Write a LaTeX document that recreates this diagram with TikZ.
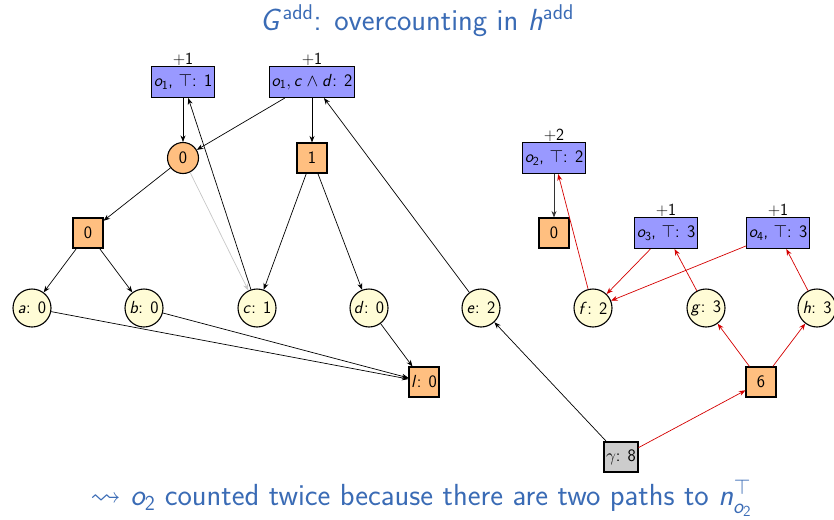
\RequirePackage{fix-cm}
\documentclass[tikz,border=0pt]{standalone}
\usepackage{amssymb}
\usetikzlibrary{arrows.meta}
\DeclareMathAlphabet{\mathsfit}{OT1}{cmss}{m}{sl}
\newcommand{\sv}[1]{\ensuremath{\mathsfit{#1}}}
\definecolor{opblue}{HTML}{9999FF}
\definecolor{andor}{HTML}{FFBF80}
\definecolor{varyel}{HTML}{FFFCD6}
\definecolor{goalgray}{HTML}{CCCCCC}
\definecolor{titleblue}{HTML}{3A6BB5}
\definecolor{arred}{HTML}{D40000}
\begin{document}
\begin{tikzpicture}[x=1pt,y=-1pt,
  every node/.style={font=\sffamily\fontsize{17.5}{20}\selectfont},
  opbox/.style={draw, line width=1.1pt, fill=opblue, minimum height=31pt, inner sep=2pt},
  andbox/.style={draw, line width=1.1pt, fill=andor, minimum size=30pt, inner sep=2pt},
  orcirc/.style={circle, draw, line width=1.1pt, fill=andor, minimum size=31pt, inner sep=1pt},
  varcirc/.style={circle, draw, line width=1.1pt, fill=varyel, minimum size=38pt, inner sep=0.5pt},
  goalbox/.style={draw, line width=1.1pt, fill=goalgray, minimum height=30pt, inner sep=2pt},
  cost/.style={label={[inner sep=0.5pt, font=\sffamily\fontsize{17}{19}\selectfont]above:+#1}},
  edge/.style={-{Stealth[length=6.5pt,width=5pt]}, line width=0.7pt},
  redge/.style={edge, draw=arred},
  faint/.style={edge, draw=black!22}]
\useasboundingbox (0,0) rectangle (834,519);
% title and message
\node[text=titleblue] (title) at (417,21) {\fontsize{30.5}{34}\selectfont $\mathsfit{G}^{\mathsf{add}}$: overcounting in $\mathsfit{h}^{\mathsf{add}}$};
\node[text=titleblue] (msg) at (421,498) {\fontsize{30.5}{34}\selectfont $\leadsto$ $\mathsfit{o}_{\mathsf{2}}$ counted twice because there are two paths to $\mathsfit{n}^{\top}_{\mathsfit{o}_{\mathsf{2}}}$};
% operator nodes
\node[opbox, cost=1] (o1t) at (183,82) {$\mathsfit{o}_{\mathsf{1}}$, $\top$: 1};
\node[opbox, cost=1] (o1cd) at (312,82) {$\mathsfit{o}_{\mathsf{1}}, \mathsfit{c} \wedge \mathsfit{d}$: 2};
\node[opbox, cost=2] (o2t) at (554,158) {$\mathsfit{o}_{\mathsf{2}}$, $\top$: 2};
\node[opbox, cost=1] (o3t) at (666,233) {$\mathsfit{o}_{\mathsf{3}}$, $\top$: 3};
\node[opbox, cost=1] (o4t) at (778,233) {$\mathsfit{o}_{\mathsf{4}}$, $\top$: 3};
% and / or nodes
\node[orcirc] (or0) at (183,158) {0};
\node[andbox] (and1) at (312,158) {1};
\node[andbox] (and0) at (88,233) {0};
\node[andbox] (zero2) at (554,233) {0};
\node[andbox] (l) at (424,382) {\sv{l}: 0};
\node[andbox] (six) at (761,382) {6};
\node[goalbox] (gam) at (621,457) {$\gamma$: 8};
% variables
\node[varcirc] (a) at (32,308) {\sv{a}: 0};
\node[varcirc] (b) at (144,308) {\sv{b}: 0};
\node[varcirc] (c) at (257,308) {\sv{c}: 1};
\node[varcirc] (d) at (369,308) {\sv{d}: 0};
\node[varcirc] (e) at (481,308) {\sv{e}: 2};
\node[varcirc] (f) at (593,308) {\sv{f}: 2};
\node[varcirc] (g) at (706,308) {\sv{g}: 3};
\node[varcirc] (h) at (817,308) {\sv{h}: 3};
% black edges
\draw[edge] (o1t) -- (or0);
\draw[edge] (o1cd) -- (or0);
\draw[edge] (o1cd) -- (and1);
\draw[edge] (or0) -- (and0);
\draw[faint] (or0) -- (c);
\draw[edge] (and0) -- (a);
\draw[edge] (and0) -- (b);
\draw[edge] (and1) -- (c);
\draw[edge] (and1) -- (d);
\draw[edge] (c) -- (o1t);
\draw[edge] (e) -- (o1cd);
\draw[edge] (a) -- (l);
\draw[edge] (b) -- (l);
\draw[edge] (d) -- (l);
\draw[edge] (gam) -- (e);
\draw[edge, draw=black!80] (o2t) -- (zero2);
% red edges
\draw[redge] (gam) -- (six);
\draw[redge] (six) -- (g);
\draw[redge] (six) -- (h);
\draw[redge] (g) -- (o3t);
\draw[redge] (h) -- (o4t);
\draw[redge] (o3t) -- (f);
\draw[redge] (o4t) -- (f);
\draw[redge] (f) -- (o2t);
\end{tikzpicture}
\end{document}
